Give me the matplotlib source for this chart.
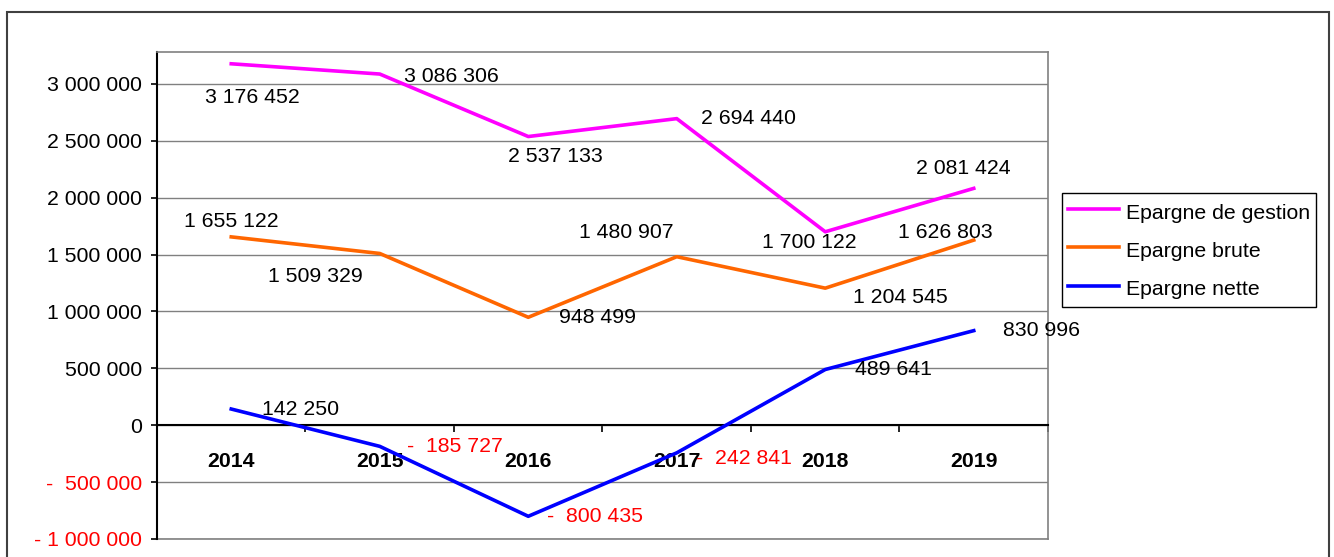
import matplotlib.pyplot as plt
from matplotlib.patches import Rectangle

# données
years = ['2014', '2015', '2016', '2017', '2018', '2019']
epargne_gestion = [3176452, 3086306, 2537133, 2694440, 1700122, 2081424]
epargne_brute = [1655122, 1509329, 948499, 1480907, 1204545, 1626803]
epargne_nette = [142250, -185727, -800435, -242841, 489641, 830996]
y_ticks = [-1000000, -500000, 0, 500000, 1000000, 1500000, 2000000, 2500000, 3000000]

# décalage des étiquettes (pixels)
off_gestion = [(21, -34), (72, -2), (27, -20), (72, 0), (-16, -11), (-10, 20)]
off_brute = [(0, 15), (-64, -23), (69, 0), (-50, 24), (75, -9), (-28, 8)]
off_nette = [(69, 0), (75, 0), (67, 0), (67, -6), (68, 0), (68, 0)]


def fmt(v):
    s = f'{abs(v):,}'.replace(',', ' ')
    if v < 0:
        return '-' + (' ' if abs(v) >= 1000000 else '  ') + s
    return s


plt.rcParams['font.family'] = ['Liberation Sans', 'DejaVu Sans']
fig = plt.figure(figsize=(13.34, 5.57), dpi=100)
ax = fig.add_axes([157 / 1334, 1 - 539 / 557, (1048 - 157) / 1334, (539 - 52) / 557])

# cadre extérieur
fig.patches.append(Rectangle((7 / 1334, -0.02), (1329 - 7) / 1334, 1.02 - 12 / 557,
                             transform=fig.transFigure, fill=False,
                             edgecolor='#404040', linewidth=1.5))

x = list(range(len(years)))
series = [
    (epargne_gestion, 'Epargne de gestion', '#FF00FF', off_gestion),
    (epargne_brute, 'Epargne brute', '#FF6600', off_brute),
    (epargne_nette, 'Epargne nette', '#0000FF', off_nette),
]
for vals, name, col, offs in series:
    ax.plot(x, vals, color=col, linewidth=2.6, label=name, zorder=3)
    for i, v in enumerate(vals):
        ax.annotate(fmt(v), (i, v), xytext=offs[i], textcoords='offset pixels',
                    ha='center', va='center', fontsize=15.3,
                    color='#FF0000' if v < 0 else 'black',
                    annotation_clip=False, zorder=4)

ax.set_xlim(-0.5, 5.5)
ax.set_ylim(-1000000, 3280000)

# axe des y
ax.set_yticks(y_ticks)
ax.set_yticklabels([fmt(v) for v in y_ticks], fontsize=15.3)
for lab, v in zip(ax.get_yticklabels(), y_ticks):
    if v < 0:
        lab.set_color('#FF0000')
ax.tick_params(axis='y', direction='out', length=4, width=1.2, pad=7)
ax.grid(axis='y', color='#808080', linewidth=1)
ax.set_axisbelow(True)

# axe des x sur le zéro
ax.spines['bottom'].set_position(('data', 0))
ax.spines['bottom'].set_linewidth(1.5)
ax.spines['left'].set_linewidth(1.5)
for s in ['top', 'right']:
    ax.spines[s].set_color('#808080')
    ax.spines[s].set_linewidth(1.2)
ax.set_xticks(x)
ax.set_xticklabels(years, fontsize=15.3, fontweight='bold')
ax.set_xticks([i + 0.5 for i in range(-1, 6)], minor=True)
ax.tick_params(axis='x', which='major', length=0, pad=19)
ax.tick_params(axis='x', which='minor', direction='out', length=5, width=1.2)

# ligne du bas du cadre de tracé
ax.axhline(-1000000, color='#808080', linewidth=1.2, clip_on=False)

leg = fig.legend(loc='upper left', bbox_to_anchor=(1062 / 1334, 1 - 193 / 557),
                 fontsize=15.3, frameon=True, fancybox=False, framealpha=1,
                 edgecolor='black', handlelength=2.4, handleheight=1.4,
                 labelspacing=0.65, borderaxespad=0, borderpad=0.3,
                 handletextpad=0.3)
leg.get_frame().set_linewidth(1)

plt.savefig('out.png', dpi=100)
